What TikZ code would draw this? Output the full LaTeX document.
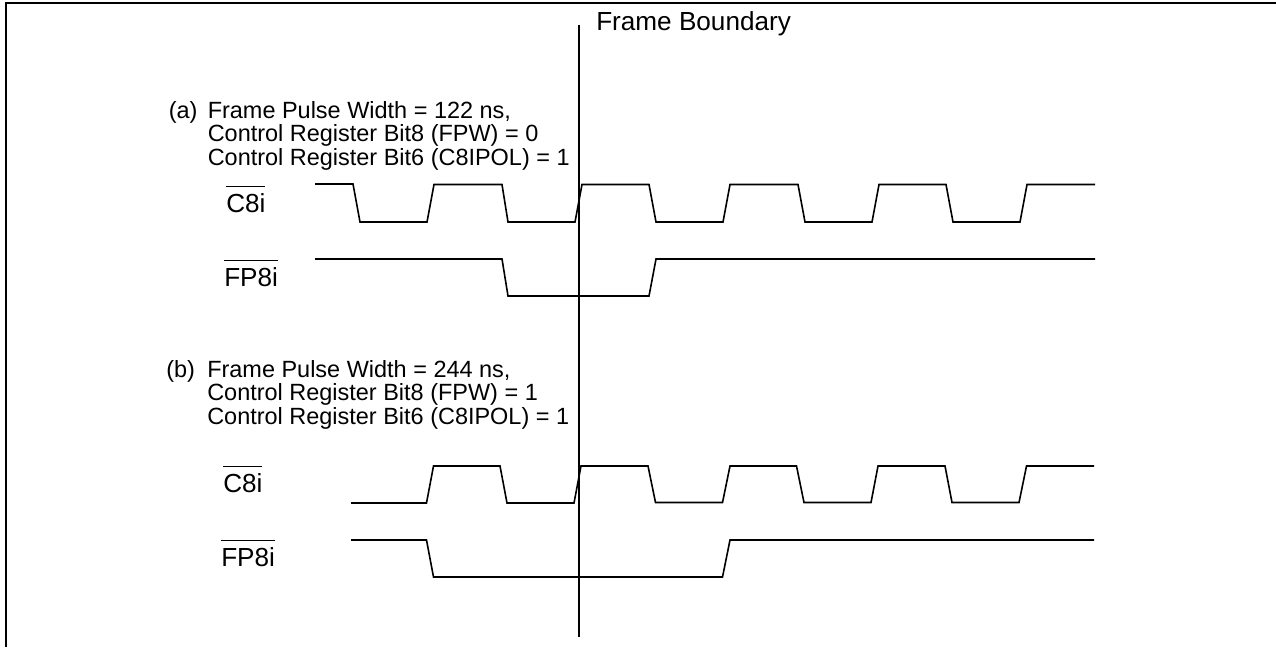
\documentclass[tikz,border=0pt]{standalone}
\usepackage{fontspec}
\setmainfont{Liberation Sans}
\usetikzlibrary{positioning}
\tikzset{signal/.style={line width=1.2pt,line join=miter}}
\tikzset{frameline/.style={line width=1.5pt}}
\tikzset{biglabel/.style={font=\fontsize{19.6pt}{23pt}\selectfont,inner sep=0pt,anchor=base west}}
\tikzset{notelabel/.style={font=\fontsize{17.6pt}{17.6pt}\selectfont,inner sep=0pt,anchor=base west,align=left}}
\newcommand{\barred}[1]{$\overline{\mbox{\rule{0pt}{17.6pt}#1}}$}

\begin{document}
\begin{tikzpicture}[x=0.75pt,y=-0.75pt]
    \useasboundingbox (0,0) rectangle (1276,647);

    % outer frame, open on the right and at the bottom
    \draw[frameline] (6,647) -- (6,2.5) -- (1276,2.5);
    \draw[frameline] (579,25) -- (579,637);
    \node[biglabel] (boundary) at (596,30) {Frame Boundary};

    % case a
    \node[notelabel] (nota) at (168.5,118) {(a)};
    \node[notelabel] (texta) at (207.5,165) {Frame Pulse Width = 122 ns,\\Control Register Bit8 (FPW) = 0\\Control Register Bit6 (C8IPOL) = 1};
    \node[biglabel] (clka) at (226,212) {\barred{C8i}};
    \node[biglabel] (fpa) at (224,286) {\barred{FP8i}};

    \draw[signal] (315,184) -- (353,184) -- (360,222) -- (427,222) -- (434,184.5)
        -- (502,184.5) -- (508,222) -- (575,222) -- (582,184.5)
        -- (649,184.5) -- (656,222) -- (723,222) -- (730,184.5)
        -- (798,184.5) -- (805,222) -- (872,222) -- (879,184.5)
        -- (946,184.5) -- (953,222) -- (1020,222) -- (1027,184.5) -- (1095,184.5);
    \draw[signal] (315,259) -- (502,259) -- (508,296) -- (649,296) -- (656,259) -- (1095,259);

    % case b
    \node[notelabel] (notb) at (166,377) {(b)};
    \node[notelabel] (textb) at (207,424) {Frame Pulse Width = 244 ns,\\Control Register Bit8 (FPW) = 1\\Control Register Bit6 (C8IPOL) = 1};
    \node[biglabel] (clkb) at (223,492) {\barred{C8i}};
    \node[biglabel] (fpb) at (221,566) {\barred{FP8i}};

    \draw[signal] (351,503) -- (426.5,503) -- (433.5,466) -- (500,466) -- (507,503)
        -- (574,503) -- (581,466)
        -- (648,466) -- (655.5,502.5) -- (722.5,502.5) -- (730,466)
        -- (796.5,466) -- (804,502.5) -- (871,502.5) -- (878,466)
        -- (945,466) -- (952,502.5) -- (1019,502.5) -- (1026.5,466) -- (1094,466);
    \draw[signal] (351,540) -- (426.5,540) -- (433.5,577) -- (722.5,577) -- (730,540) -- (1094,540);
\end{tikzpicture}
\end{document}
